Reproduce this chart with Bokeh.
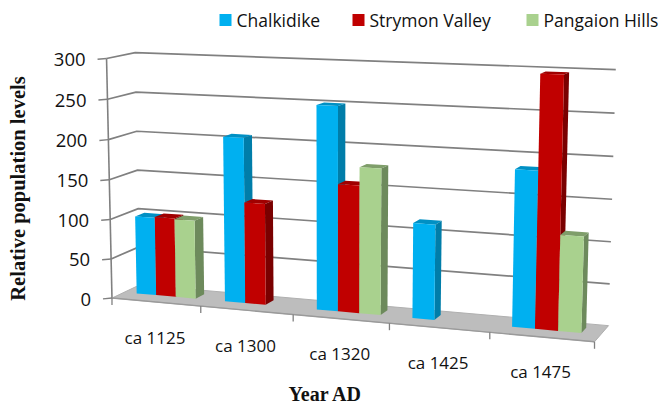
import numpy as np
from bokeh.plotting import figure
from bokeh.models import Range1d
from bokeh.core.properties import value
from bokeh.embed import file_html
from bokeh.resources import INLINE

categories = ["ca 1125", "ca 1300", "ca 1320", "ca 1425", "ca 1475"]
chalkidike = [99, 206, 250, 115, 186]
strymon = [100, 126, 156, None, 297]
pangaion = [99, None, 178, None, 113]
y_ticks = [0, 50, 100, 150, 200, 250, 300]
series_names = ["Chalkidike", "Strymon Valley", "Pangaion Hills"]
x_title = "Year AD"
y_title = "Relative population levels"

FRONT = ["#00B0F0", "#C00000", "#A9D18E"]
SIDE = ["#007DA9", "#7A0000", "#6D8A5C"]
TOP = ["#0090C4", "#A00000", "#7F9E6A"]
GRID = "#808080"
TEXT = "#111111"

# calibration of the oblique 3D view: (category pos, depth, value) -> page px
calib = [
    (0, 0, 0, 112, 297), (1, 0, 0, 200, 305.2), (2, 0, 0, 293, 314), (3, 0, 0, 389, 323),
    (4, 0, 0, 489, 332), (5, 0, 0, 594, 342), (0, 1, 0, 139, 285), (5, 1, 0, 608, 324),
    (0, 0, 300, 106, 58), (0, 1, 300, 135, 52), (5, 1, 300, 615, 69),
    (0, 0, 150, 108.5, 179), (0, 1, 150, 137, 170), (5, 1, 150, 612, 199),
]
A = []
b = []
for u, d, v, x, y in calib:
    A.append([u, d, v, 1, 0, 0, 0, 0, -x * u, -x * d, -x * v]); b.append(x)
    A.append([0, 0, 0, 0, u, d, v, 1, -y * u, -y * d, -y * v]); b.append(y)
m = np.linalg.lstsq(np.array(A, float), np.array(b, float), rcond=None)[0]


def proj(u, d, v):
    w = m[8] * u + m[9] * d + m[10] * v + 1
    return (m[0] * u + m[1] * d + m[2] * v + m[3]) / w, (m[4] * u + m[5] * d + m[6] * v + m[7]) / w


def poly(pts):
    c = [proj(*q) for q in pts]
    return [q[0] for q in c], [q[1] for q in c]


p = figure(width=662, height=405, x_range=Range1d(0, 662), y_range=Range1d(405, 0),
           output_backend="svg", toolbar_location=None, min_border=0,
           background_fill_color="white", border_fill_color="white", outline_line_color=None)
p.xaxis.visible = False
p.yaxis.visible = False
p.grid.visible = False

n = len(categories)
# floor
fx, fy = poly([(0, 0, 0), (n, 0, 0), (n, 1, 0), (0, 1, 0)])
p.patch(fx, fy, fill_color="#BDBDBD", line_color="#B0B0B0", line_width=1)

# walls: gridlines
for t in y_ticks:
    xs, ys = poly([(0, 0, t), (0, 1, t), (n, 1, t)])
    if t > 0:
        p.line(xs, ys, line_color=GRID, line_width=1.7)
    tx, ty = proj(0, 0, t)
    p.line([tx - 9, tx], [ty + 0.8, ty], line_color=GRID, line_width=1.4)
    p.text([tx - 21], [ty + 1], text=[str(t)], text_font=value("Open Sans"), text_font_size="18.5px",
           text_color=TEXT, text_align="right", text_baseline="middle")

ax, ay = poly([(0, 0, 0), (0, 0, 300)])
p.line(ax, ay, line_color=GRID, line_width=1.6)

# floor front edge and ticks
ex, ey = poly([(0, 0, 0), (n, 0, 0)])
p.line(ex, ey, line_color="#9A9A9A", line_width=1.4)
for i in range(n + 1):
    tx, ty = proj(i, 0, 0)
    p.line([tx, tx], [ty, ty + 7], line_color=GRID, line_width=1.3)

# bars
D0, D1 = 0.43, 0.76
START, W = 0.145, 0.224
for i in range(n):
    for s, vals in enumerate([chalkidike, strymon, pangaion]):
        val = vals[i]
        if val is None:
            continue
        u0 = i + START + s * W
        u1 = u0 + W
        xs, ys = poly([(u0, D0, val), (u1, D0, val), (u1, D1, val), (u0, D1, val)])
        p.patch(xs, ys, fill_color=TOP[s], line_color=None)
        xs, ys = poly([(u1, D0, 0), (u1, D1, 0), (u1, D1, val), (u1, D0, val)])
        p.patch(xs, ys, fill_color=SIDE[s], line_color=None)
        xs, ys = poly([(u0, D0, 0), (u1, D0, 0), (u1, D0, val), (u0, D0, val)])
        p.patch(xs, ys, fill_color=FRONT[s], line_color=None)

# category labels
for i, c in enumerate(categories):
    lx, ly = proj(i + 0.5, 0, 0)
    p.text([lx - 1], [ly + 35], text=[c], text_font=value("Open Sans"), text_font_size="17px",
           text_color=TEXT, text_align="center", text_baseline="middle")

# axis titles
p.text([325], [393], text=[x_title], text_font=value("Liberation Serif"), text_font_size="20px",
       text_font_style="bold", text_color=TEXT, text_align="center", text_baseline="middle")
p.text([17], [188], text=[y_title], text_font=value("Liberation Serif"), text_font_size="20.5px",
       text_font_style="bold", text_color=TEXT, text_align="center", text_baseline="middle",
       angle=np.pi / 2)

# legend
for name, col, sx in zip(series_names, FRONT, [219, 352, 526]):
    p.rect([sx + 6], [19.5], width=12, height=12, fill_color=col, line_color=None)
    p.text([sx + 17], [19], text=[name], text_font=value("Open Sans"), text_font_size="17.5px",
           text_color=TEXT, text_align="left", text_baseline="middle")

open("out.html", "w").write(file_html(p, INLINE))
